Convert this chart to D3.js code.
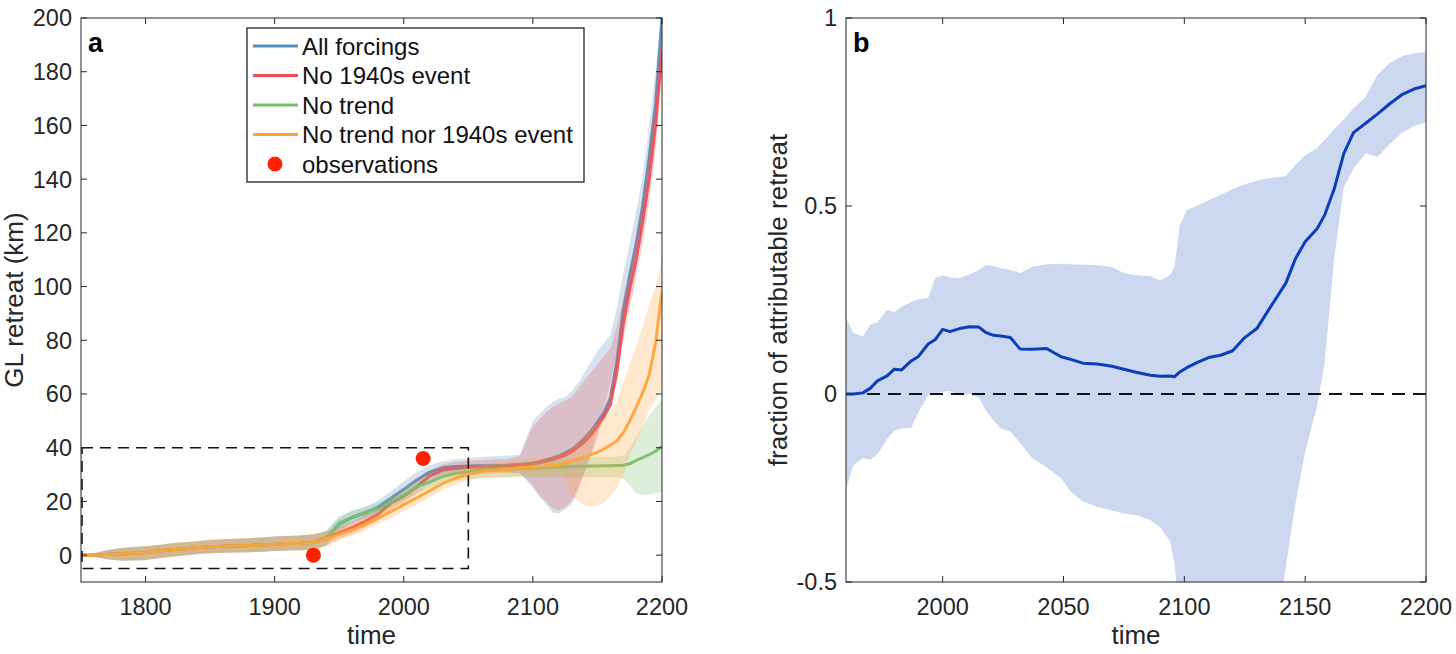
<!DOCTYPE html>
<html>
<head>
<meta charset="utf-8">
<script src="https://cdn.jsdelivr.net/npm/d3@7"></script>
<style>
  body { margin: 0; background: #fff; }
  svg { font-family: "Liberation Sans", Arial, Helvetica, sans-serif; }
</style>
</head>
<body>
<svg id="chart" width="1456" height="654"></svg>
<script>
// ---------- panel a data ----------
const yearsA = [1750,1760,1770,1780,1790,1800,1810,1820,1830,1840,1850,1860,1870,1880,1890,1900,1910,1920,1930,
  1940,1950,1960,1970,1980,1990,2000,2010,2020,2030,2040,2050,2060,2070,2080,2090,2100,
  2105,2110,2115,2120,2125,2130,2135,2140,2145,2150,2155,2160,2165,2170,2175,2180,2185,2190,2195,2200];

const early = [0,0,0.2,0.4,0.7,1.0,1.5,2.0,2.4,2.8,3.1,3.3,3.4,3.6,3.8,4.1,4.3,4.4,4.7];
const earlyLow = [0,-0.5,-1.5,-2,-2,-1.8,-1.2,-0.6,-0.1,0.4,0.7,0.9,1.0,1.1,1.3,1.5,1.7,1.8,2.0];
const earlyHigh = [0,0.6,1.8,2.6,3.0,3.3,3.8,4.4,4.8,5.2,5.6,5.9,6.1,6.3,6.6,6.9,7.1,7.3,7.8];

const allForcings = early.concat([6.5,11.5,14.0,15.8,17.8,21.2,24.5,28.0,30.9,32.5,33.0,33.2,33.3,33.4,33.5,33.8,34.3,
  34.8,35.4,36.1,36.9,38.0,39.4,41.2,43.5,46.2,49.5,53.0,58.5,72.0,91.0,104.0,116.0,130.0,148.0,168.0,200.0]);
const allLow = earlyLow.concat([3.8,9.0,12.0,13.8,15.8,18.5,22.0,25.5,28.3,29.8,30.5,30.8,31.0,31.0,30.8,30.5,25.0,
  22.0,19.0,16.0,15.5,17.0,19.0,24.0,31.0,38.0,46.0,55.0,64.0,75.0,88.0,98.0,109.0,121.0,137.0,156.0,190.0]);
const allHigh = earlyHigh.concat([9.0,14.0,16.5,18.0,20.3,23.8,27.5,31.0,33.5,35.0,35.7,36.2,36.5,36.8,37.0,37.5,50.0,
  52.5,55.0,57.0,58.0,59.0,61.0,64.0,68.0,72.0,76.0,79.0,82.0,92.0,105.0,116.0,128.0,141.0,160.0,180.0,205.0]);

const no1940s = early.concat([6.2,8.3,10.3,12.6,15.2,19.4,22.0,25.3,29.5,31.6,32.3,32.6,32.8,33.0,33.2,33.6,34.0,
  34.4,34.9,35.5,36.3,37.2,38.5,40.3,42.2,44.8,48.0,51.5,56.0,68.0,86.0,99.0,110.0,124.0,140.0,160.0,188.0]);
const no1940sLow = earlyLow.concat([3.6,6.0,8.0,10.3,12.8,17.0,19.8,23.0,26.5,28.8,29.8,30.2,30.4,30.6,30.8,30.6,26.0,
  22.0,20.0,17.5,16.5,18.0,20.0,25.0,31.0,37.0,44.0,52.0,60.0,68.0,80.0,92.0,103.0,116.0,131.0,150.0,180.0]);
const no1940sHigh = earlyHigh.concat([8.6,10.8,12.5,15.0,17.5,21.5,24.5,28.0,31.5,33.8,34.8,35.2,35.4,35.6,35.8,37.0,48.0,
  50.5,53.0,55.0,56.5,57.5,59.0,62.0,65.0,68.0,71.0,74.0,77.0,85.0,96.0,107.0,118.0,132.0,150.0,170.0,196.0]);

const noTrend = early.concat([6.2,12.0,14.2,15.6,17.2,19.8,22.3,25.5,27.2,29.2,30.5,31.1,31.6,31.9,32.1,32.3,32.4,
  32.5,32.6,32.7,32.8,32.9,33.0,33.1,33.1,33.2,33.2,33.3,33.3,33.4,33.5,34.0,35.3,36.3,37.4,38.7,40.5]);
const noTrendLow = earlyLow.concat([3.6,9.5,12.0,13.5,15.0,17.5,20.0,22.8,25.0,26.8,27.8,28.3,28.6,28.8,28.9,29.0,29.0,
  29.0,29.0,29.0,29.0,29.0,29.0,29.0,29.0,29.0,29.0,29.0,29.0,29.0,28.5,26.0,23.0,22.5,22.5,23.0,23.5]);
const noTrendHigh = earlyHigh.concat([9.2,14.5,16.5,17.8,19.5,22.0,24.8,27.5,29.5,31.3,32.5,33.2,33.7,34.0,34.3,34.6,34.8,
  35.0,35.2,35.4,35.6,35.8,36.0,36.2,36.3,36.4,36.5,36.6,36.6,36.7,37.0,40.0,44.0,48.0,52.0,55.0,58.0]);

const noBoth = early.concat([6.0,7.8,9.4,11.4,13.8,16.2,18.8,21.3,24.0,26.6,28.7,30.1,31.0,31.6,32.0,32.4,32.8,
  33.0,33.1,33.3,33.6,34.2,35.0,35.8,36.6,37.4,38.3,39.5,41.0,42.5,45.5,50.0,55.0,60.5,67.0,79.0,98.0]);
const noBothLow = earlyLow.concat([3.2,5.5,7.2,9.2,11.5,13.8,16.3,18.8,21.5,24.2,26.3,27.8,28.6,29.0,29.2,29.4,29.5,
  29.5,29.6,29.6,29.6,29.0,22.0,20.0,18.5,18.0,18.5,19.5,22.0,25.0,30.0,37.0,42.0,48.0,54.0,58.0,62.0]);
const noBothHigh = earlyHigh.concat([9.0,10.2,11.8,13.8,16.2,18.8,21.5,24.0,26.5,29.2,31.2,32.6,33.4,34.2,35.0,35.6,36.0,
  36.2,36.5,36.8,37.2,37.8,40.0,43.0,45.0,47.0,49.0,51.0,53.0,57.0,64.0,71.0,78.0,85.0,93.0,100.0,110.0]);

const seriesNames = ["All forcings", "No 1940s event", "No trend", "No trend nor 1940s event"];
const seriesColors = ["#5b8fc0", "#f05052", "#78bf70", "#fea437"];

const obsYears = [1930, 2015];
const obsRetreat = [0, 36];

const boxYears = [1750, 2050];
const boxRetreat = [-5, 40];

// ---------- panel b data ----------
const yearsB = [1960,1963,1967,1970,1973,1977,1980,1983,1987,1990,1994,1997,2000,2003,2007,2011,2015,2018,2021,2024,
  2028,2032,2037,2043,2049,2053,2058,2064,2070,2075,2080,2086,2090,2094,2096,2098,2101,2105,2110,2115,2120,
  2125,2130,2135,2140,2142,2146,2150,2155,2158,2162,2166,2170,2175,2180,2185,2190,2195,2200];
const fracMean = [0.0,0.0,0.003,0.015,0.035,0.048,0.066,0.064,0.088,0.10,0.133,0.145,0.172,0.166,0.174,0.179,0.178,0.163,
  0.156,0.154,0.15,0.12,0.119,0.121,0.099,0.092,0.082,0.08,0.074,0.066,0.058,0.05,0.047,0.048,0.046,0.058,0.07,
  0.083,0.097,0.103,0.115,0.15,0.174,0.225,0.275,0.295,0.36,0.405,0.44,0.475,0.545,0.64,0.695,0.72,0.745,0.772,
  0.796,0.811,0.82];
const fracHigh = [0.202,0.163,0.152,0.185,0.19,0.224,0.218,0.232,0.245,0.252,0.255,0.31,0.315,0.31,0.308,0.318,0.33,
  0.344,0.34,0.335,0.33,0.322,0.338,0.345,0.346,0.345,0.344,0.343,0.338,0.322,0.316,0.313,0.302,0.315,0.34,0.446,
  0.49,0.5,0.515,0.53,0.545,0.558,0.567,0.574,0.578,0.58,0.61,0.635,0.655,0.675,0.705,0.73,0.76,0.79,0.85,0.88,
  0.898,0.906,0.909];
const fracLow = [-0.253,-0.19,-0.17,-0.175,-0.16,-0.12,-0.098,-0.092,-0.09,-0.048,-0.003,0.002,0.005,0.008,-0.003,0.0,
  -0.01,-0.045,-0.07,-0.092,-0.1,-0.13,-0.17,-0.195,-0.225,-0.26,-0.286,-0.3,-0.31,-0.318,-0.322,-0.336,-0.355,
  -0.39,-0.45,-0.6,-0.7,-0.7,-0.7,-0.7,-0.7,-0.7,-0.7,-0.7,-0.55,-0.46,-0.29,-0.155,-0.03,0.08,0.36,0.55,0.6,
  0.64,0.63,0.665,0.695,0.712,0.723];

const svg = d3.select("#chart");
const axisColor = "#262626";

function drawFrame(g, x, y, w, h, xTicks, yTicks, yFmt) {
  // box
  g.append("rect").attr("width", w).attr("height", h)
      .attr("fill", "none").attr("stroke", axisColor).attr("stroke-width", 1);
  const tl = 6;
  xTicks.forEach(t => {
    g.append("line").attr("x1", x(t)).attr("x2", x(t)).attr("y1", h).attr("y2", h - tl).attr("stroke", axisColor);
    g.append("line").attr("x1", x(t)).attr("x2", x(t)).attr("y1", 0).attr("y2", tl).attr("stroke", axisColor);
    g.append("text").attr("x", x(t)).attr("y", h + 33).attr("text-anchor", "middle")
        .attr("font-size", 23.5).attr("fill", axisColor).text(t);
  });
  yTicks.forEach(t => {
    g.append("line").attr("y1", y(t)).attr("y2", y(t)).attr("x1", 0).attr("x2", tl).attr("stroke", axisColor);
    g.append("line").attr("y1", y(t)).attr("y2", y(t)).attr("x1", w).attr("x2", w - tl).attr("stroke", axisColor);
    g.append("text").attr("x", -9).attr("y", y(t)).attr("dy", "0.36em").attr("text-anchor", "end")
        .attr("font-size", 23.5).attr("fill", axisColor).text(yFmt(t));
  });
  g.append("text").attr("x", w / 2).attr("y", h + 62).attr("text-anchor", "middle")
      .attr("font-size", 26).attr("fill", axisColor).text("time");
}

// ---------- panel a ----------
const mA = {left: 81, top: 18, width: 581, height: 564};
const gA = svg.append("g").attr("transform", `translate(${mA.left},${mA.top})`);
const xA = d3.scaleLinear().domain([1750, 2200]).range([0, mA.width]);
const yA = d3.scaleLinear().domain([-10, 200]).range([mA.height, 0]);

svg.append("clipPath").attr("id", "clipA").append("rect")
    .attr("width", mA.width).attr("height", mA.height);
const plotA = gA.append("g").attr("clip-path", "url(#clipA)");

const bandsA = [[allLow, allHigh], [no1940sLow, no1940sHigh], [noTrendLow, noTrendHigh], [noBothLow, noBothHigh]];
const linesA = [allForcings, no1940s, noTrend, noBoth];

const areaA = d3.area().x(d => xA(d.year)).y0(d => yA(d.lo)).y1(d => yA(d.hi));
const lineA = d3.line().x(d => xA(d.year)).y(d => yA(d.v));

linesA.forEach((vals, i) => {
  const bandData = yearsA.map((yr, j) => ({year: yr, lo: bandsA[i][0][j], hi: bandsA[i][1][j]}));
  plotA.append("path").datum(bandData).attr("d", areaA)
      .attr("fill", seriesColors[i]).attr("fill-opacity", 0.25);
  const lineData = yearsA.map((yr, j) => ({year: yr, v: vals[j]}));
  plotA.append("path").datum(lineData).attr("d", lineA)
      .attr("fill", "none").attr("stroke", seriesColors[i]).attr("stroke-width", 3)
      .attr("stroke-opacity", 0.95).attr("stroke-linejoin", "round");
});

// dashed zoom box
gA.append("rect")
    .attr("x", xA(boxYears[0]) + 1).attr("y", yA(boxRetreat[1]))
    .attr("width", xA(boxYears[1]) - xA(boxYears[0]) - 1)
    .attr("height", yA(boxRetreat[0]) - yA(boxRetreat[1]))
    .attr("fill", "none").attr("stroke", "#111").attr("stroke-width", 1.6)
    .attr("stroke-dasharray", "11,7");

// observations
obsYears.forEach((yr, i) => {
  gA.append("circle").attr("cx", xA(yr)).attr("cy", yA(obsRetreat[i])).attr("r", 7.5).attr("fill", "#ff2200");
});

drawFrame(gA, xA, yA, mA.width, mA.height, d3.range(1800, 2201, 100), d3.range(0, 201, 20), d => d);

gA.append("text").attr("x", 7).attr("y", 34).attr("font-size", 27).attr("font-weight", "bold").text("a");

svg.append("text").attr("transform", `translate(23,${mA.top + mA.height / 2}) rotate(-90)`)
    .attr("text-anchor", "middle").attr("font-size", 26).attr("fill", axisColor).text("GL retreat (km)");

// legend
const leg = gA.append("g").attr("transform", "translate(166,10)");
leg.append("rect").attr("width", 337).attr("height", 154).attr("fill", "#fff")
    .attr("stroke", "#111").attr("stroke-width", 1.2);
seriesNames.concat(["observations"]).forEach((name, i) => {
  const cy = 18 + i * 29.5;
  if (i < 4) {
    leg.append("line").attr("x1", 6).attr("x2", 51).attr("y1", cy).attr("y2", cy)
        .attr("stroke", seriesColors[i]).attr("stroke-width", 3);
  } else {
    leg.append("circle").attr("cx", 28).attr("cy", cy).attr("r", 7.5).attr("fill", "#ff2200");
  }
  leg.append("text").attr("x", 55).attr("y", cy).attr("dy", "0.36em")
      .attr("font-size", 24).attr("fill", "#111").text(name);
});

// ---------- panel b ----------
const mB = {left: 846, top: 18, width: 580, height: 564};
const gB = svg.append("g").attr("transform", `translate(${mB.left},${mB.top})`);
const xB = d3.scaleLinear().domain([1960, 2200]).range([0, mB.width]);
const yB = d3.scaleLinear().domain([-0.5, 1]).range([mB.height, 0]);

svg.append("clipPath").attr("id", "clipB").append("rect")
    .attr("width", mB.width).attr("height", mB.height);
const plotB = gB.append("g").attr("clip-path", "url(#clipB)");

const bandB = yearsB.map((yr, j) => ({year: yr, lo: fracLow[j], hi: fracHigh[j]}));
plotB.append("path").datum(bandB)
    .attr("d", d3.area().x(d => xB(d.year)).y0(d => yB(d.lo)).y1(d => yB(d.hi)))
    .attr("fill", "#cbd8f0");

plotB.append("line").attr("x1", xB(1960)).attr("x2", xB(2200)).attr("y1", yB(0)).attr("y2", yB(0))
    .attr("stroke", "#111").attr("stroke-width", 2).attr("stroke-dasharray", "13,8");

plotB.append("path").datum(yearsB.map((yr, j) => ({year: yr, v: fracMean[j]})))
    .attr("d", d3.line().x(d => xB(d.year)).y(d => yB(d.v)))
    .attr("fill", "none").attr("stroke", "#0b3fb8").attr("stroke-width", 3).attr("stroke-linejoin", "round");

drawFrame(gB, xB, yB, mB.width, mB.height, d3.range(2000, 2201, 50), [-0.5, 0, 0.5, 1], d => d);

gB.append("text").attr("x", 7).attr("y", 34).attr("font-size", 27).attr("font-weight", "bold").text("b");

svg.append("text").attr("transform", `translate(787,${mB.top + mB.height / 2}) rotate(-90)`)
    .attr("text-anchor", "middle").attr("font-size", 26).attr("fill", axisColor)
    .text("fraction of attributable retreat");
</script>
</body>
</html>
